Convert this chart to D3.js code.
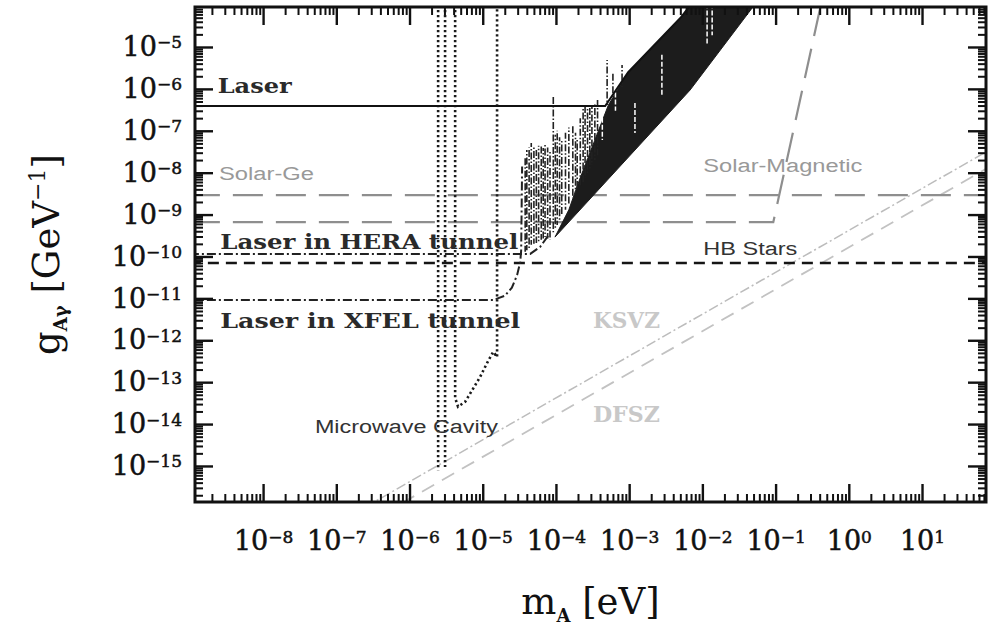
<!DOCTYPE html>
<html>
<head>
<meta charset="utf-8">
<script src="https://cdn.jsdelivr.net/npm/d3@7"></script>
<style>
  body { margin: 0; background: #fff; }
  svg { display: block; }
</style>
</head>
<body>
<svg id="chart" width="991" height="627"></svg>
<script>
// decades that carry a label
const xExponents = [-8, -7, -6, -5, -4, -3, -2, -1, 0, 1];
const yExponents = [-15, -14, -13, -12, -11, -10, -9, -8, -7, -6, -5];

// axis extent, m_A in eV and g in GeV^-1
const xDomain = [1.175e-9, 74.8];
const yDomain = [1.38e-16, 9.0e-5];

// limit curves, [m_A, g]
const laser = [[1e-9, 3.9e-7], [4.7e-4, 3.9e-7], [9.7e-4, 2.5e-6], [5.0e-3, 4.9e-5], [8.5e-3, 1.6e-4]];
const laserBand = [[9.7e-5, 2.9e-10], [6.8e-3, 9.4e-7], [4.9e-2, 9.0e-5], [6.5e-2, 1.6e-4], [8.5e-3, 1.6e-4],
  [5.0e-3, 4.9e-5], [9.7e-4, 2.5e-6], [5.2e-4, 4.1e-7], [3.4e-4, 6.0e-8], [2.1e-4, 6.8e-9], [1.5e-4, 1.3e-9]];
// oscillation spikes, [m_A, g top, g bottom]
const spikes = [
  [3.8e-5, 2.2e-8, 1.3e-10], [4.0e-5, 3.5e-8, 1.4e-10], [4.3e-5, 4.0e-8, 1.6e-10], [4.6e-5, 5.1e-8, 1.9e-10],
  [5.0e-5, 4.2e-8, 2.0e-10], [5.4e-5, 3.5e-8, 2.1e-10], [5.8e-5, 4.4e-8, 2.3e-10], [6.3e-5, 4.6e-8, 2.5e-10],
  [6.7e-5, 3.9e-8, 2.7e-10], [7.1e-5, 4.6e-8, 2.9e-10], [7.7e-5, 4.0e-8, 2.7e-10], [8.3e-5, 3.5e-8, 2.5e-10],
  [9.2e-5, 6.4e-7, 3.8e-10], [9.8e-5, 8.0e-8, 4.5e-10], [1.04e-4, 1.0e-7, 5.6e-10], [1.12e-4, 7.0e-8, 7.5e-10],
  [1.2e-4, 6.0e-8, 9.8e-10], [1.35e-4, 9.0e-8, 1.3e-9], [1.5e-4, 1.2e-7, 1.7e-9], [1.7e-4, 1.4e-7, 2.5e-9],
  [1.85e-4, 9.0e-8, 3.2e-9], [1.95e-4, 6.0e-8, 3.9e-9], [2.15e-4, 2.0e-7, 5.0e-9], [2.35e-4, 3.7e-7, 6.0e-9],
  [2.5e-4, 3.9e-7, 7.5e-9], [2.7e-4, 4.1e-7, 8.8e-9], [2.9e-4, 4.0e-7, 1.2e-8], [3.1e-4, 4.1e-7, 1.5e-8],
  [3.4e-4, 4.5e-7, 2.0e-8], [3.7e-4, 5.4e-7, 2.6e-8], [5.0e-4, 4.9e-6, 4.1e-7], [6.0e-4, 2.5e-6, 6.0e-7],
  [8.0e-4, 3.7e-6, 1.1e-6]
];
const bandGaps = [[1.16e-2, 1.6e-4, 1.1e-5], [1.36e-2, 1.6e-4, 1.9e-5], [1.2e-3, 4.6e-7, 8.9e-8], [2.8e-3, 6.5e-6, 7.1e-7],
  [4.3e-4, 3.0e-7, 6.0e-8], [6.5e-4, 1.2e-6, 3.0e-7]];
const heraTunnel = [[1e-9, 1.15e-10], [4.45e-5, 1.15e-10], [6.1e-5, 1.7e-10], [7.8e-5, 3.1e-10]];
const xfelTunnel = [[1e-9, 9.1e-12], [1.39e-5, 9.1e-12], [2.0e-5, 1.15e-11], [2.5e-5, 1.8e-11], [2.95e-5, 3.6e-11],
  [3.25e-5, 7.4e-11], [3.35e-5, 1.4e-10], [3.45e-5, 1.4e-8]];
const solarGe = [[1e-9, 2.9e-9], [100, 2.9e-9]];
const solarMagnetic = [[1e-9, 6.6e-10], [0.093, 6.6e-10], [0.44, 1.6e-4]];
const hbStars = [[1e-9, 7.0e-11], [100, 7.0e-11]];
const cavityA = [[2.46e-6, 1e-4], [2.46e-6, 7.9e-16]];
const cavityB = [[3.06e-6, 1e-4], [3.06e-6, 9.5e-16]];
const cavityC = [[4.2e-6, 1e-4], [4.2e-6, 4.2e-14], [4.6e-6, 2.6e-14], [5.75e-6, 3.4e-14], [7.2e-6, 6.5e-14],
  [9.2e-6, 1.33e-13], [1.15e-5, 2.9e-13], [1.39e-5, 5.3e-13], [1.57e-5, 4.0e-13], [1.57e-5, 1e-4]];
const ksvz = [[2.5e-7, 1.05e-16], [79, 3.3e-8]];
const dfsz = [[7.9e-7, 1.3e-16], [79, 1.3e-8]];

const svg = d3.select('#chart');
const plot = {left: 195, right: 986, top: 7, bottom: 502};

const x = d3.scaleLog().domain(xDomain).range([plot.left, plot.right]);
const y = d3.scaleLog().domain(yDomain).range([plot.bottom, plot.top]);

function minors(domain) {
  const out = [];
  for (let e = -17; e <= 2; e++) {
    for (let k = 2; k <= 9; k++) {
      const v = k * Math.pow(10, e);
      if (v > domain[0] && v < domain[1]) out.push(v);
    }
  }
  return out;
}
const xMajor = xExponents.map(e => Math.pow(10, e));
const yMajor = yExponents.map(e => Math.pow(10, e));
const xMinor = minors(xDomain);
const yMinor = minors(yDomain);

svg.append('defs').append('clipPath').attr('id', 'clip')
  .append('rect')
  .attr('x', plot.left).attr('y', plot.top)
  .attr('width', plot.right - plot.left).attr('height', plot.bottom - plot.top);

const line = d3.line().x(d => x(d[0])).y(d => y(d[1]));
const $plot = svg.append('g').attr('clip-path', 'url(#clip)');

// theory lines
$plot.append('path').attr('d', line(ksvz))
  .attr('fill', 'none').attr('stroke', '#bcbcbc').attr('stroke-width', 1.5).attr('stroke-dasharray', '10,3,2,3');
$plot.append('path').attr('d', line(dfsz))
  .attr('fill', 'none').attr('stroke', '#c2c2c2').attr('stroke-width', 1.8).attr('stroke-dasharray', '14,9');

// solar limits
[solarGe, solarMagnetic].forEach(d => {
  $plot.append('path').attr('d', line(d))
    .attr('fill', 'none').attr('stroke', '#8e8e8e').attr('stroke-width', 2.2).attr('stroke-dasharray', '30,13');
});

$plot.append('path').attr('d', line(hbStars))
  .attr('fill', 'none').attr('stroke', '#151515').attr('stroke-width', 2.4).attr('stroke-dasharray', '11,7');

// microwave cavity
[cavityA, cavityB, cavityC].forEach(d => {
  $plot.append('path').attr('d', line(d))
    .attr('fill', 'none').attr('stroke', '#1a1a1a').attr('stroke-width', 2.6).attr('stroke-dasharray', '2.2,2.8');
});

// laser experiments
$plot.append('path').attr('d', line(laserBand) + 'Z')
  .attr('fill', '#1c1c1c').attr('stroke', '#1c1c1c').attr('stroke-width', 1);

$plot.selectAll('.spike')
  .data(spikes)
  .enter()
  .append('line')
  .attr('class', 'spike')
  .attr('x1', d => x(d[0])).attr('x2', d => x(d[0]))
  .attr('y1', d => y(d[1])).attr('y2', d => y(d[2]))
  .attr('stroke', '#222').attr('stroke-width', 1.6)
  .attr('stroke-dasharray', '7,2,1.5,2')
  .attr('stroke-dashoffset', (d, i) => (i * 5) % 12);

$plot.selectAll('.gap')
  .data(bandGaps)
  .enter()
  .append('line')
  .attr('class', 'gap')
  .attr('x1', d => x(d[0])).attr('x2', d => x(d[0]))
  .attr('y1', d => y(d[1])).attr('y2', d => y(d[2]))
  .attr('stroke', '#fff').attr('stroke-width', 1.5).attr('stroke-dasharray', '5,2');

[heraTunnel, xfelTunnel].forEach(d => {
  $plot.append('path').attr('d', line(d))
    .attr('fill', 'none').attr('stroke', '#222').attr('stroke-width', 2).attr('stroke-dasharray', '9,3,2,3');
});

$plot.append('path').attr('d', line(laser))
  .attr('fill', 'none').attr('stroke', '#111').attr('stroke-width', 2);

// annotations
function note(txt, m, g, w, opts) {
  svg.append('text')
    .attr('x', x(m)).attr('y', y(g))
    .attr('textLength', w).attr('lengthAdjust', 'spacingAndGlyphs')
    .attr('font-family', opts.family).attr('font-weight', opts.weight || 'normal')
    .attr('font-size', opts.size).attr('fill', opts.color)
    .text(txt);
}
const slab = {family: '"DejaVu Serif", serif', weight: 'bold', size: 21, color: '#2a2a2a'};
const sans = {family: '"Liberation Sans", Arial, sans-serif', size: 18, color: '#333'};
const light = {family: '"Liberation Sans", Arial, sans-serif', size: 18, color: '#999'};
const faint = {family: '"DejaVu Serif", serif', weight: 'bold', size: 22, color: '#c8c8c8'};

note('Laser', 2.4e-9, 8.0e-7, 74, slab);
note('Laser in HERA tunnel', 2.6e-9, 1.5e-10, 298, slab);
note('Laser in XFEL tunnel', 2.6e-9, 1.97e-12, 300, slab);
note('Solar-Ge', 2.5e-9, 6.7e-9, 95, light);
note('Solar-Magnetic', 1.03e-2, 1.04e-8, 159, light);
note('HB Stars', 1.03e-2, 1.09e-10, 94, sans);
note('Microwave Cavity', 5.1e-8, 6.2e-15, 183, sans);
note('KSVZ', 3.2e-4, 1.97e-12, 67, faint);
note('DFSZ', 3.2e-4, 1.12e-14, 67, faint);

// axes, ticks pointing inward on all four sides
function expText(sel) {
  sel.selectAll('.tick text').each(function(d) {
    const e = Math.round(Math.log10(d));
    const t = d3.select(this);
    t.text('10');
    t.append('tspan').attr('dy', '-0.45em').attr('font-size', '17px')
      .text(e < 0 ? '\u2212' + (-e) : String(e));
  });
}

function axisPair(make, pos, transform, majors, minorsList, labelled) {
  const gMin = svg.append('g').attr('transform', transform)
    .call(make(pos).tickValues(minorsList).tickSizeInner(-8).tickSizeOuter(0).tickFormat(''));
  gMin.select('.domain').remove();
  gMin.attr('color', '#111').selectAll('line').attr('stroke-width', 2);
  const ax = make(pos).tickValues(majors).tickSizeInner(-18).tickSizeOuter(0);
  if (labelled) ax.tickPadding(labelled); else ax.tickFormat('');
  const gMaj = svg.append('g').attr('transform', transform).call(ax);
  gMaj.select('.domain').remove();
  gMaj.selectAll('line').attr('stroke-width', 2.4);
  gMaj.attr('color', '#111').attr('font-family', '"DejaVu Serif", serif').attr('font-size', 27);
  gMaj.selectAll('text').attr('stroke', '#111').attr('stroke-width', 0.5);
  if (labelled) expText(gMaj);
}

axisPair(d3.axisBottom, x, 'translate(0,' + plot.bottom + ')', xMajor, xMinor, 29);
axisPair(d3.axisTop, x, 'translate(0,' + plot.top + ')', xMajor, xMinor, 0);
axisPair(d3.axisLeft, y, 'translate(' + plot.left + ',0)', yMajor, yMinor, 13);
axisPair(d3.axisRight, y, 'translate(' + plot.right + ',0)', yMajor, yMinor, 0);

// frame
svg.append('rect')
  .attr('x', plot.left).attr('y', plot.top)
  .attr('width', plot.right - plot.left).attr('height', plot.bottom - plot.top)
  .attr('fill', 'none').attr('stroke', '#111').attr('stroke-width', 3);

// axis titles
const xTitle = svg.append('text')
  .attr('x', (plot.left + plot.right) / 2).attr('y', 614)
  .attr('text-anchor', 'middle')
  .attr('font-family', '"DejaVu Serif", serif').attr('font-size', 37).attr('fill', '#111');
xTitle.append('tspan').text('m');
xTitle.append('tspan').attr('font-size', 18).attr('font-weight', 'bold').attr('dy', 8).text('A');
xTitle.append('tspan').attr('dy', -8).text(' [eV]');

const yTitle = svg.append('text')
  .attr('transform', 'translate(59,' + (plot.top + plot.bottom) / 2 + ') rotate(-90)')
  .attr('text-anchor', 'middle')
  .attr('font-family', '"DejaVu Serif", serif').attr('font-size', 37).attr('fill', '#111');
yTitle.append('tspan').text('g');
yTitle.append('tspan').attr('font-size', 18).attr('font-weight', 'bold').attr('dy', 8).text('A\u03b3');
yTitle.append('tspan').attr('dy', -8).text(' [GeV');
yTitle.append('tspan').attr('font-size', 22).attr('dy', -14).text('\u22121');
yTitle.append('tspan').attr('dy', 14).text(']');
</script>
</body>
</html>
